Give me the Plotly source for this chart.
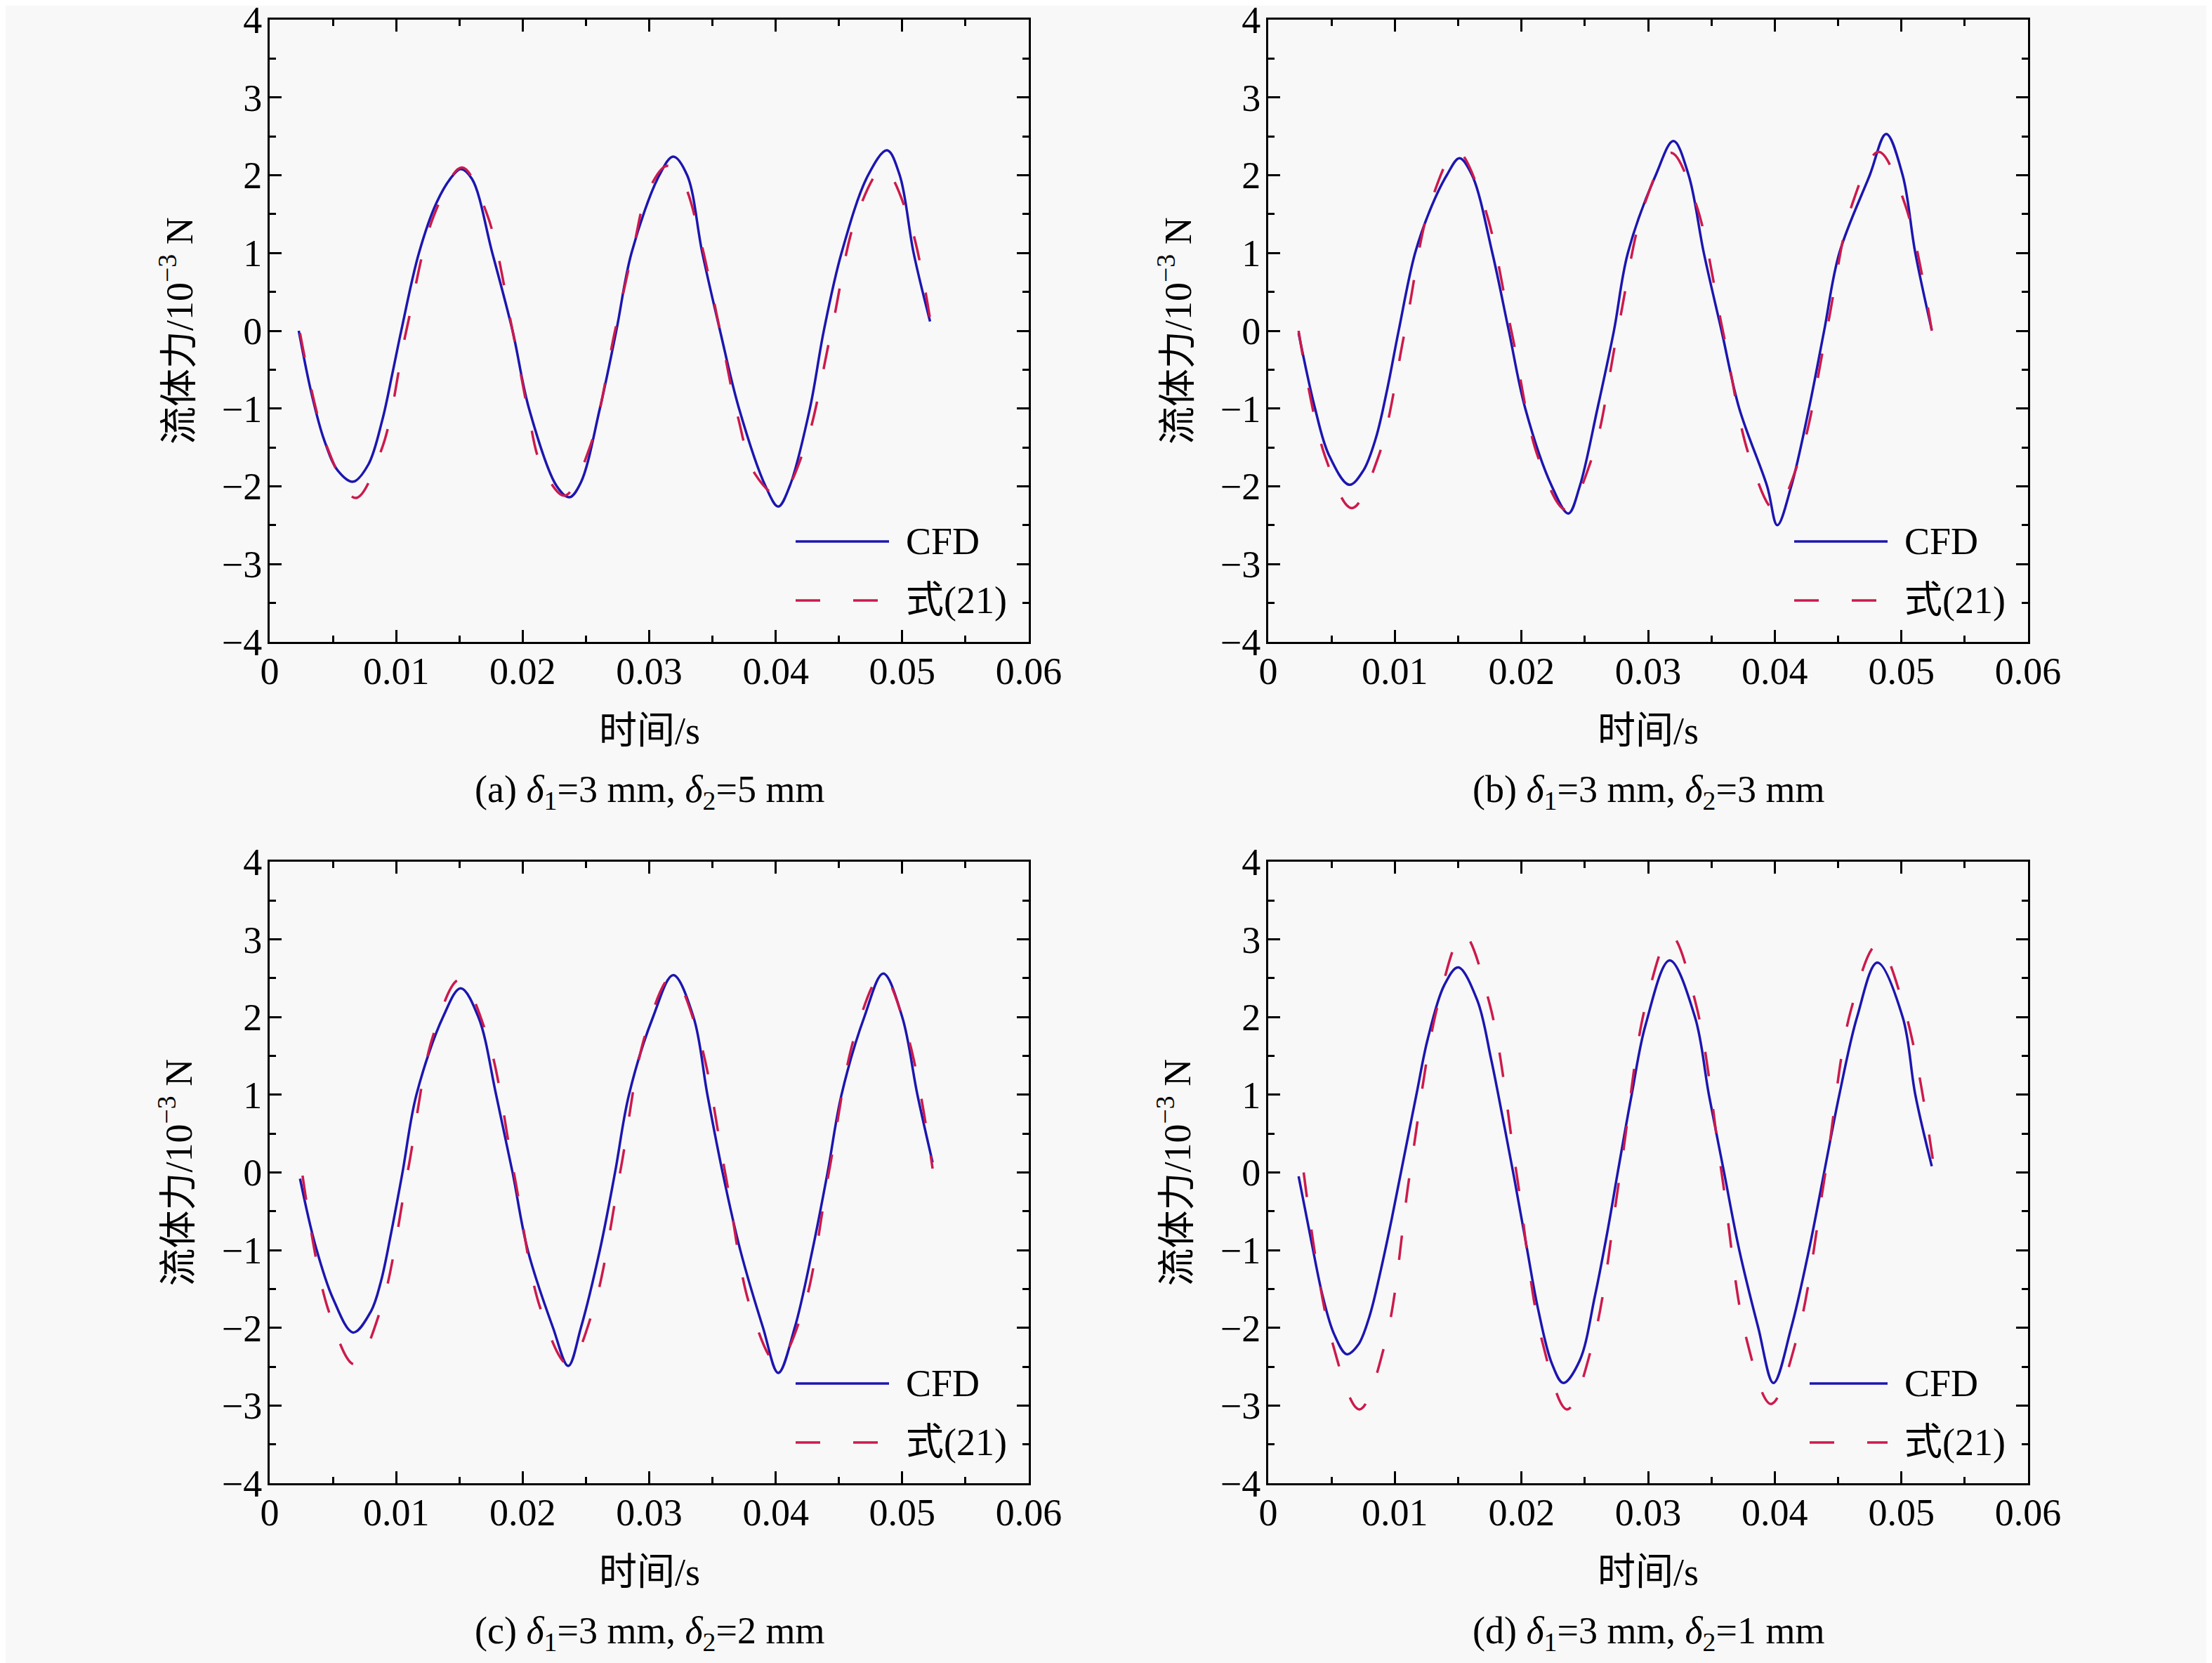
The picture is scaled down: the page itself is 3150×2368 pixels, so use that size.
import plotly.graph_objects as go

W, H = 3150, 2368
OX, OY = 8, 6  # page margin offset

# ---- data (time in s, force in 1e-3 N) ----
# (a) delta2 = 5 mm
t_cfd_a = [0.0023, 0.0033, 0.0043, 0.0054, 0.0066, 0.0078, 0.0089, 0.0097, 0.0104, 0.0118,
           0.0132, 0.0144, 0.0151, 0.0160, 0.0176, 0.0192, 0.0205, 0.0227, 0.0237, 0.0246,
           0.0261, 0.0274, 0.0286, 0.0308, 0.0319, 0.0330, 0.0342, 0.0356, 0.0371, 0.0392,
           0.0402, 0.0411, 0.0427, 0.0438, 0.0452, 0.0473, 0.0488, 0.0498, 0.0509, 0.0522]
f_cfd_a = [0.00, -0.80, -1.40, -1.80, -1.94, -1.72, -1.15, -0.55, 0.00, 1.00,
           1.65, 1.98, 2.08, 1.95, 1.00, 0.00, -1.00, -2.00, -2.14, -1.95,
           -1.00, 0.00, 1.00, 2.00, 2.24, 2.00, 1.00, 0.00, -1.00, -2.00,
           -2.26, -2.00, -1.00, 0.00, 1.00, 2.00, 2.32, 2.00, 1.00, 0.12]
t_eq_a = [0.0024, 0.0046, 0.0068, 0.0089, 0.0108, 0.0130, 0.0152, 0.0172, 0.0192, 0.0205,
          0.0214, 0.0233, 0.0253, 0.0273, 0.0288, 0.0298, 0.0314, 0.0327, 0.0340, 0.0356,
          0.0370, 0.0384, 0.0403, 0.0423, 0.0444, 0.0464, 0.0485, 0.0505, 0.0522]
f_eq_a = [-0.03, -1.52, -2.15, -1.50, 0.00, 1.49, 2.10, 1.49, 0.00, -1.10,
          -1.70, -2.12, -1.50, 0.00, 1.10, 1.75, 2.12, 1.90, 1.20, 0.00,
          -1.10, -1.85, -2.12, -1.50, 0.00, 1.48, 2.08, 1.45, 0.15]

# (b) delta2 = 3 mm
t_cfd_b = [0.0024, 0.0037, 0.0048, 0.0064, 0.0075, 0.0085, 0.0094, 0.0103, 0.0116, 0.0129,
           0.0141, 0.0151, 0.0161, 0.0177, 0.0190, 0.0203, 0.0224, 0.0237, 0.0246, 0.0260,
           0.0273, 0.0284, 0.0306, 0.0320, 0.0332, 0.0344, 0.0358, 0.0372, 0.0394, 0.0402,
           0.0413, 0.0427, 0.0439, 0.0451, 0.0475, 0.0488, 0.0501, 0.0511, 0.0524]
f_cfd_b = [-0.03, -1.00, -1.60, -1.98, -1.80, -1.38, -0.75, 0.00, 1.00, 1.60,
           2.00, 2.22, 2.00, 1.00, 0.00, -1.00, -2.00, -2.35, -2.00, -1.00,
           0.00, 1.00, 2.00, 2.44, 2.00, 1.00, 0.00, -1.00, -2.00, -2.50,
           -2.00, -1.00, 0.00, 1.00, 2.00, 2.53, 2.00, 1.00, 0.01]
t_eq_b = [0.0024, 0.0045, 0.0066, 0.0087, 0.0108, 0.0128, 0.0149, 0.0170, 0.0192, 0.0213,
          0.0235, 0.0256, 0.0276, 0.0297, 0.0318, 0.0338, 0.0359, 0.0380, 0.0400, 0.0420,
          0.0441, 0.0461, 0.0482, 0.0503, 0.0524]
f_eq_b = [0.00, -1.62, -2.28, -1.62, 0.00, 1.63, 2.31, 1.63, 0.00, -1.62,
          -2.30, -1.62, 0.00, 1.62, 2.29, 1.62, 0.00, -1.62, -2.30, -1.62,
          0.00, 1.62, 2.30, 1.62, 0.00]

# (c) delta2 = 2 mm
t_cfd_c = [0.0024, 0.0036, 0.0050, 0.0066, 0.0080, 0.0088, 0.0096, 0.0105, 0.0116, 0.0137,
           0.0151, 0.0165, 0.0179, 0.0192, 0.0204, 0.0224, 0.0236, 0.0246, 0.0261, 0.0273,
           0.0284, 0.0303, 0.0319, 0.0335, 0.0346, 0.0358, 0.0372, 0.0390, 0.0402, 0.0415,
           0.0429, 0.0441, 0.0452, 0.0470, 0.0485, 0.0500, 0.0512, 0.0524]
f_cfd_c = [-0.08, -0.93, -1.62, -2.06, -1.79, -1.40, -0.78, 0.00, 1.00, 2.00,
           2.37, 2.00, 1.00, 0.00, -1.00, -2.00, -2.49, -2.00, -1.00, 0.00,
           1.00, 2.00, 2.54, 2.00, 1.00, 0.00, -1.00, -2.00, -2.58, -2.00,
           -1.00, 0.00, 1.00, 2.00, 2.56, 2.00, 1.00, 0.13]
t_eq_c = [0.0026, 0.0046, 0.0067, 0.0088, 0.0109, 0.0129, 0.0150, 0.0172, 0.0193, 0.0214,
          0.0236, 0.0256, 0.0277, 0.0297, 0.0318, 0.0339, 0.0360, 0.0380, 0.0401, 0.0422,
          0.0442, 0.0463, 0.0484, 0.0504, 0.0524]
f_eq_c = [-0.04, -1.75, -2.47, -1.75, 0.00, 1.75, 2.48, 1.75, 0.00, -1.75,
          -2.47, -1.75, 0.00, 1.78, 2.52, 1.76, 0.00, -1.74, -2.45, -1.75,
          0.00, 1.79, 2.54, 1.78, 0.05]

# (d) delta2 = 1 mm
t_cfd_d = [0.0024, 0.0034, 0.0043, 0.0052, 0.0062, 0.0071, 0.0080, 0.0089, 0.0098, 0.0107,
           0.0117, 0.0126, 0.0139, 0.0150, 0.0165, 0.0176, 0.0185, 0.0194, 0.0204, 0.0213,
           0.0224, 0.0233, 0.0246, 0.0258, 0.0268, 0.0276, 0.0287, 0.0298, 0.0317, 0.0337,
           0.0348, 0.0360, 0.0372, 0.0387, 0.0399, 0.0413, 0.0427, 0.0439, 0.0451, 0.0465,
           0.0481, 0.0501, 0.0511, 0.0524]
f_cfd_d = [-0.05, -0.88, -1.59, -2.08, -2.34, -2.22, -1.85, -1.25, -0.56, 0.18,
           1.00, 1.72, 2.41, 2.64, 2.22, 1.46, 0.72, -0.05, -0.95, -1.75,
           -2.46, -2.71, -2.42, -1.59, -0.75, 0.00, 1.00, 1.90, 2.73, 2.00,
           1.00, 0.00, -1.00, -2.00, -2.71, -2.00, -1.00, 0.00, 1.00, 2.00,
           2.70, 2.00, 1.00, 0.08]
t_eq_d = [0.0028, 0.0050, 0.0072, 0.0093, 0.0112, 0.0134, 0.0154, 0.0175, 0.0196, 0.0216,
          0.0236, 0.0257, 0.0278, 0.0298, 0.0318, 0.0338, 0.0358, 0.0377, 0.0397, 0.0418,
          0.0440, 0.0460, 0.0481, 0.0503, 0.0525]
f_eq_d = [0.00, -2.15, -3.05, -2.15, 0.00, 2.16, 3.07, 2.16, 0.00, -2.15,
          -3.05, -2.15, 0.00, 2.15, 3.05, 2.15, 0.00, -2.10, -2.98, -2.10,
          0.00, 2.08, 2.93, 2.07, 0.15]

captions = [
    "(a) <i>δ</i><sub>1</sub>=3 mm, <i>δ</i><sub>2</sub>=5 mm",
    "(b) <i>δ</i><sub>1</sub>=3 mm, <i>δ</i><sub>2</sub>=3 mm",
    "(c) <i>δ</i><sub>1</sub>=3 mm, <i>δ</i><sub>2</sub>=2 mm",
    "(d) <i>δ</i><sub>1</sub>=3 mm, <i>δ</i><sub>2</sub>=1 mm",
]
series = [
    (t_cfd_a, f_cfd_a, t_eq_a, f_eq_a),
    (t_cfd_b, f_cfd_b, t_eq_b, f_eq_b),
    (t_cfd_c, f_cfd_c, t_eq_c, f_eq_c),
    (t_cfd_d, f_cfd_d, t_eq_d, f_eq_d),
]
x_ticks = [0, 0.01, 0.02, 0.03, 0.04, 0.05, 0.06]
x_ticktext = ["0", "0.01", "0.02", "0.03", "0.04", "0.05", "0.06"]
y_ticks = [-4, -3, -2, -1, 0, 1, 2, 3, 4]

BLUE = "#1c16b0"
RED = "#cc1a4c"
BG = "#f8f8f8"
FONT = '"Liberation Serif", "Times New Roman", "Noto Sans CJK SC", serif'
FS = 54
DASH = "35px,47px"

# panel boxes in pixels: (left, right, top, bottom)
boxes = [(384, 1465, 26, 912), (1806, 2888, 26, 912),
         (384, 1465, 1225, 2110), (1806, 2888, 1225, 2110)]


def px(x):
    return (x - OX) / W


def py(y):
    return 1 - (y - OY) / H


fig = go.Figure()
shapes = []
annotations = []

for i, (box, (tc, fc, te, fe), cap) in enumerate(zip(boxes, series, captions)):
    n = "" if i == 0 else str(i + 1)
    L, R, T, B = box
    fig.add_trace(go.Scatter(x=tc, y=fc, mode="lines", name="CFD",
                             line=dict(color=BLUE, width=3.5, shape="spline", smoothing=1.0),
                             xaxis="x" + n, yaxis="y" + n, showlegend=False))
    fig.add_trace(go.Scatter(x=te, y=fe, mode="lines", name="式(21)",
                             line=dict(color=RED, width=3.5, dash=DASH, shape="spline", smoothing=1.0),
                             xaxis="x" + n, yaxis="y" + n, showlegend=False))

    common = dict(showline=True, linecolor="black", linewidth=3, mirror="ticks",
                  ticks="inside", ticklen=17, tickwidth=3, tickcolor="black",
                  showgrid=False, zeroline=False, automargin=False,
                  ticklabeloverflow="allow",
                  tickfont=dict(family=FONT, size=FS, color="black"))
    fig.layout["xaxis" + n] = dict(domain=[px(L), px(R)], range=[0, 0.06],
                                   tickvals=x_ticks, ticktext=x_ticktext,
                                   anchor="y" + n, ticklabelstandoff=-8,
                                   minor=dict(ticks="inside", ticklen=9, tickwidth=3,
                                              tickcolor="black", dtick=0.005, tick0=0),
                                   **common)
    fig.layout["yaxis" + n] = dict(domain=[py(B), py(T)], range=[-4, 4],
                                   tickvals=y_ticks, anchor="x" + n, ticklabelstandoff=-3,
                                   minor=dict(ticks="inside", ticklen=9, tickwidth=3,
                                              tickcolor="black", dtick=0.5, tick0=0),
                                   **common)

    # axis titles and caption
    cx = (L + R) / 2
    annotations.append(dict(x=px(L - 133), y=py((T + B) / 2), xref="paper", yref="paper",
                            text="流体力/10<sup>−3</sup> N", textangle=-90, showarrow=False,
                            xanchor="center", yanchor="middle",
                            font=dict(family=FONT, size=FS, color="black")))
    annotations.append(dict(x=px(cx), y=py(B + 127), xref="paper", yref="paper",
                            text="时间/s", showarrow=False, xanchor="center", yanchor="middle",
                            font=dict(family=FONT, size=FS, color="black")))
    annotations.append(dict(x=px(cx), y=py(B + 213), xref="paper", yref="paper",
                            text=cap, showarrow=False, xanchor="center", yanchor="middle",
                            font=dict(family=FONT, size=FS, color="black")))

    # legend (drawn inside lower right of each panel)
    lx0 = L + (771 if i == 3 else 749)
    lx1 = L + 882
    ly1 = T + 743
    ly2 = T + 827
    shapes.append(dict(type="line", xref="paper", yref="paper", x0=px(lx0), x1=px(lx1),
                       y0=py(ly1), y1=py(ly1), line=dict(color=BLUE, width=3.5)))
    shapes.append(dict(type="line", xref="paper", yref="paper", x0=px(lx0), x1=px(lx1),
                       y0=py(ly2), y1=py(ly2), line=dict(color=RED, width=3.5, dash=DASH)))
    annotations.append(dict(x=px(L + 904), y=py(ly1), xref="paper", yref="paper",
                            text="CFD", showarrow=False, xanchor="left", yanchor="middle",
                            font=dict(family=FONT, size=FS, color="black")))
    annotations.append(dict(x=px(L + 904), y=py(ly2), xref="paper", yref="paper",
                            text="式(21)", showarrow=False, xanchor="left", yanchor="middle",
                            font=dict(family=FONT, size=FS, color="black")))

fig.update_layout(width=W, height=H, margin=dict(l=0, r=0, t=0, b=0),
                  paper_bgcolor=BG, plot_bgcolor=BG,
                  font=dict(family=FONT, size=FS, color="black"),
                  shapes=shapes, annotations=annotations, showlegend=False)

fig.write_html("out.html")
